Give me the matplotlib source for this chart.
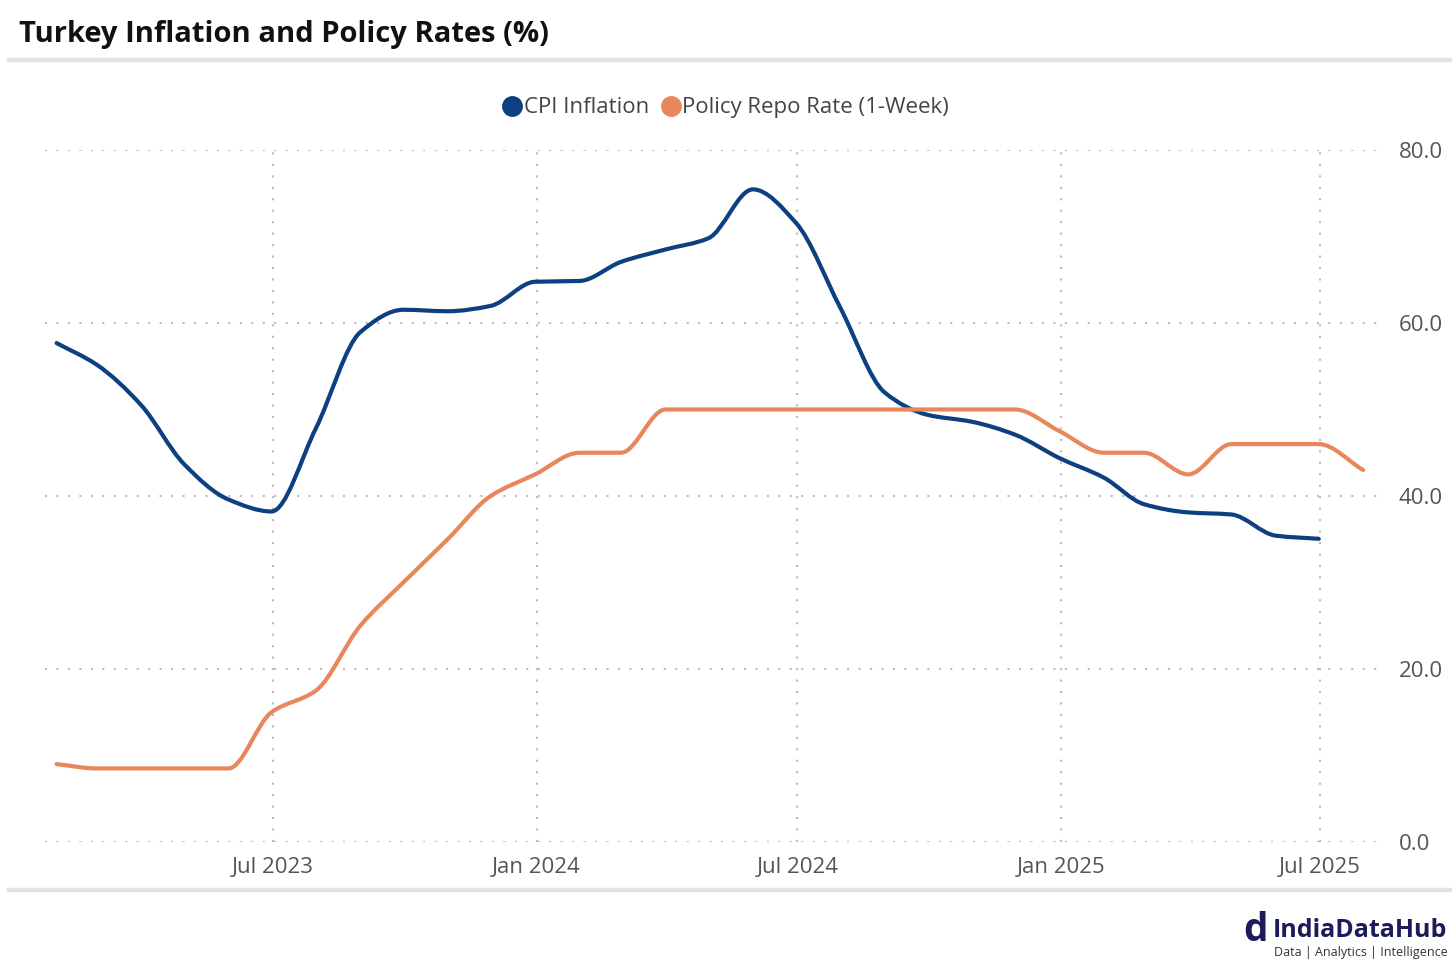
import datetime as dt
import numpy as np
import matplotlib
matplotlib.use("Agg")
import matplotlib.pyplot as plt
import matplotlib.dates as mdates
from matplotlib.path import Path
from matplotlib.patches import PathPatch
from matplotlib.lines import Line2D

plt.rcParams["font.family"] = ["Open Sans", "DejaVu Sans"]

# monthly values, plotted at month end
CPI_START = (2023, 1)
CPI_VALUES = [57.68, 55.18, 50.51, 43.68, 39.59, 38.21, 47.83, 58.94, 61.53, 61.36,
              61.98, 64.77, 64.86, 67.07, 68.50, 69.80, 75.45, 71.60, 61.78, 51.97,
              49.38, 48.58, 47.09, 44.38, 42.12, 39.05, 38.10, 37.86, 35.41, 35.05]
POLICY_START = (2023, 1)
POLICY_VALUES = [9.0, 8.5, 8.5, 8.5, 8.5, 15.0, 17.5, 25.0, 30.0, 35.0,
                 40.0, 42.5, 45.0, 45.0, 50.0, 50.0, 50.0, 50.0, 50.0, 50.0,
                 50.0, 50.0, 50.0, 47.5, 45.0, 45.0, 42.5, 46.0, 46.0, 46.0, 43.0]
SERIES_NAMES = ["CPI Inflation", "Policy Repo Rate (1-Week)"]
SERIES_COLORS = ["#0d4080", "#e9875c"]
Y_TICKS = [0, 20, 40, 60, 80]
X_TICKS = [(2023, 7), (2024, 1), (2024, 7), (2025, 1), (2025, 7)]

TITLE = "Turkey Inflation and Policy Rates (%)"


def month_ends(start, count):
    year, month = start
    out = []
    for _ in range(count):
        ny, nm = (year + 1, 1) if month == 12 else (year, month + 1)
        out.append(dt.date(ny, nm, 1) - dt.timedelta(days=1))
        year, month = ny, nm
    return out


def smooth_path(x, y):
    # monotone cubic (Fritsch-Carlson) as bezier segments
    x = np.asarray(x, float)
    y = np.asarray(y, float)
    h = np.diff(x)
    d = np.diff(y) / h
    n = len(x)
    m = np.zeros(n)
    m[0], m[-1] = d[0], d[-1]
    for k in range(1, n - 1):
        if d[k - 1] * d[k] <= 0:
            m[k] = 0.0
        else:
            w1 = 2 * h[k] + h[k - 1]
            w2 = h[k] + 2 * h[k - 1]
            m[k] = (w1 + w2) / (w1 / d[k - 1] + w2 / d[k])
    verts = [(x[0], y[0])]
    codes = [Path.MOVETO]
    for k in range(n - 1):
        verts += [(x[k] + h[k] / 3, y[k] + m[k] * h[k] / 3),
                  (x[k + 1] - h[k] / 3, y[k + 1] - m[k + 1] * h[k] / 3),
                  (x[k + 1], y[k + 1])]
        codes += [Path.CURVE4] * 3
    return Path(verts, codes)


fig = plt.figure(figsize=(14.56, 9.71), dpi=100)
ax = fig.add_axes([0.031, 0.1329, 0.92, 0.7126])

series = [(month_ends(CPI_START, len(CPI_VALUES)), CPI_VALUES),
          (month_ends(POLICY_START, len(POLICY_VALUES)), POLICY_VALUES)]
for (dates, vals), color in zip(series, SERIES_COLORS):
    path = smooth_path(mdates.date2num(dates), vals)
    ax.add_patch(PathPatch(path, fill=False, edgecolor=color, linewidth=3.0,
                           capstyle="round", joinstyle="round", zorder=3))

ax.set_xlim(mdates.date2num(dt.date(2023, 1, 23)), mdates.date2num(dt.date(2025, 8, 15)))
ax.set_ylim(0, 80)
ax.set_xticks([mdates.date2num(dt.date(yy, mm, 1)) for yy, mm in X_TICKS])
ax.xaxis.set_major_formatter(mdates.DateFormatter("%b %Y"))
ax.set_yticks(Y_TICKS)
ax.set_yticklabels([f"{v:.1f}" for v in Y_TICKS])
ax.yaxis.tick_right()
ax.tick_params(axis="both", length=0, labelsize=16, labelcolor="#555555")
ax.tick_params(axis="y", pad=10)
ax.tick_params(axis="x", pad=11)
ax.grid(True, color="#bbbbbb", linestyle=(0, (1, 4.5)), linewidth=1.5)
for s in ax.spines.values():
    s.set_visible(False)

handles = [Line2D([0], [0], marker="o", linestyle="none", markersize=14,
                  markerfacecolor=c, markeredgecolor=c, label=n)
           for n, c in zip(SERIES_NAMES, SERIES_COLORS)]
leg = fig.legend(handles=handles, loc="center", bbox_to_anchor=(0.498, 0.889), ncol=2,
                 frameon=False, fontsize=16, handletextpad=0.0, columnspacing=0.5,
                 handlelength=1.0)
for t in leg.get_texts():
    t.set_color("#444444")

fig.text(0.013, 0.964, TITLE, fontsize=21, fontweight="bold", color="#111111",
         va="center", ha="left")
fig.add_artist(Line2D([0.006, 0.996], [0.938, 0.938], color="#e2e2e2", linewidth=3.2,
                      transform=fig.transFigure))
fig.add_artist(Line2D([0.006, 0.996], [0.083, 0.083], color="#e2e2e2", linewidth=3.2,
                      transform=fig.transFigure))

# logo
fig.text(0.862, 0.042, "d", fontsize=28, fontweight="bold", color="#1c1c5c",
         va="center", ha="center")
fig.text(0.994, 0.042, "IndiaDataHub", fontsize=18, fontweight="bold", color="#1c1c5c",
         va="center", ha="right")
fig.text(0.994, 0.019, "Data | Analytics | Intelligence", fontsize=9, color="#333333",
         va="center", ha="right")

fig.savefig("out.png", dpi=100)
